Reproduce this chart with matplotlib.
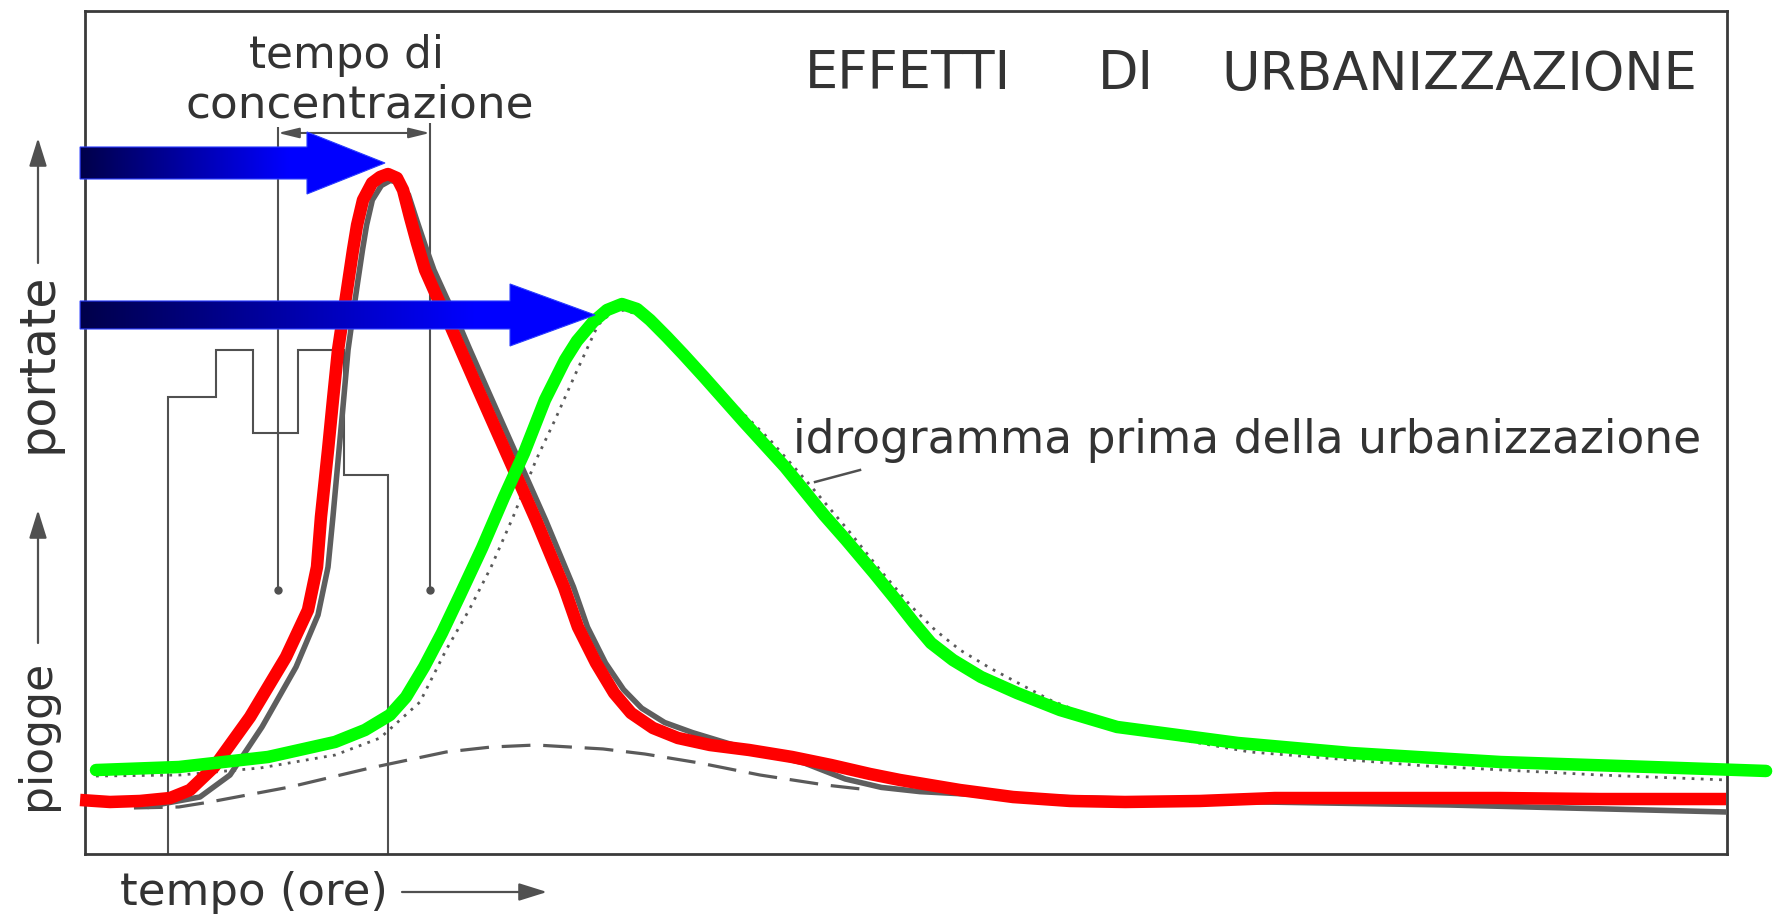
import numpy as np
import matplotlib
matplotlib.use("Agg")
import matplotlib.pyplot as plt
from matplotlib.patches import Polygon, FancyArrowPatch
from matplotlib.transforms import Affine2D
from matplotlib.colors import LinearSegmentedColormap

W, H, DPI = 1777, 918, 100

# ---------------- data (time 0..100 across frame, discharge 0..100) ----------------
# hydrograph after urbanization (red)
red_t = [-0.30, 1.52, 3.35, 5.18, 6.39, 7.86, 10.05, 12.24, 13.58, 14.13, 14.37, 14.80,
         15.10, 15.41, 15.71, 16.02, 16.32, 16.57, 16.93, 17.48, 17.97, 18.45, 19.00,
         19.37, 19.79, 20.22, 20.71, 21.44, 22.23, 22.84, 23.93, 25.58, 27.47, 29.17,
         30.02, 31.12, 32.22, 33.25, 34.59, 36.11, 38.06, 40.44, 43.06, 45.43, 47.81,
         49.63, 53.29, 56.52, 59.99, 63.34, 67.90, 72.47, 80.09, 86.18, 92.27, 99.94]
red_q = [6.41, 6.17, 6.29, 6.64, 7.59, 10.32, 16.25, 23.37, 28.94, 34.05, 39.98, 47.92,
         53.86, 59.79, 63.70, 67.74, 71.65, 74.61, 77.58, 79.60, 80.31, 80.66, 80.19,
         78.77, 75.56, 72.48, 69.28, 66.07, 62.75, 60.02, 55.16, 47.92, 39.62, 31.67,
         26.93, 22.66, 19.10, 16.73, 14.95, 13.76, 12.93, 12.34, 11.51, 10.56, 9.49,
         8.78, 7.59, 6.76, 6.29, 6.17, 6.29, 6.64, 6.64, 6.64, 6.52, 6.52]

# hydrograph before urbanization (green)
green_t = [0.67, 5.72, 11.15, 15.23, 17.05, 18.57, 19.55, 20.65, 21.74, 22.84, 24.18,
           25.52, 26.74, 28.01, 29.23, 29.96, 30.94, 31.79, 32.70, 33.62, 34.41, 35.44,
           36.42, 37.70, 40.13, 42.63, 45.01, 46.35, 48.05, 49.39, 50.49, 51.52, 52.86,
           54.57, 56.76, 59.38, 62.85, 70.22, 77.10, 86.24, 95.37, 102.38]
green_q = [9.96, 10.32, 11.51, 13.29, 14.71, 16.49, 18.62, 22.18, 26.22, 30.72, 36.30,
           42.35, 47.57, 53.86, 58.60, 60.85, 63.11, 64.53, 65.24, 64.65, 63.35, 61.33,
           59.31, 56.58, 51.25, 45.91, 40.21, 37.25, 33.33, 30.13, 27.40, 25.03, 23.01,
           21.00, 19.10, 17.08, 15.07, 13.17, 11.98, 10.91, 10.32, 9.85]

# original printed curves (grey): urbanized (solid), pre-urbanization (dotted), base flow (dashed)
orig_urb_t = [3.96, 7.00, 8.83, 10.78, 12.85, 14.19, 14.80, 15.10, 15.47, 15.75, 16.02,
              16.30, 16.60, 16.90, 17.15, 17.50, 18.05, 18.60, 19.20, 19.70, 20.20, 20.70,
              21.25, 22.00, 22.80, 23.40, 24.50, 26.15, 28.05, 29.75, 30.60, 31.70, 32.80,
              33.90, 35.30, 37.00, 39.20, 41.40, 43.80, 46.30, 48.50, 50.85, 55.72, 67.90,
              83.13, 100.0]
orig_urb_q = [5.69, 6.76, 9.37, 15.07, 22.18, 28.35, 34.04, 39.98, 47.92, 53.86, 59.79,
              63.70, 67.74, 71.65, 74.61, 77.58, 79.30, 79.90, 79.60, 78.20, 75.20, 72.30,
              69.28, 66.07, 62.75, 60.02, 55.16, 47.92, 39.62, 31.67, 26.93, 22.66, 19.50,
              17.30, 15.60, 14.40, 13.10, 11.90, 10.80, 8.90, 7.90, 7.40, 6.90, 6.29,
              5.81, 4.98]

orig_pre_t = [0.67, 5.79, 10.66, 15.23, 17.97, 20.40, 21.99, 23.39, 24.73, 26.07, 27.47,
              28.62, 29.84, 31.24, 32.10, 32.89, 34.23, 36.66, 38.19, 41.72, 44.15, 46.47,
              48.42, 50.24, 51.77, 53.29, 55.12, 58.77, 63.34, 70.95, 81.67, 92.27, 100.0]
orig_pre_q = [9.25, 9.37, 10.20, 11.74, 13.76, 18.03, 24.20, 28.94, 34.04, 39.98, 46.74,
              51.48, 56.82, 62.75, 64.29, 64.53, 63.58, 59.55, 55.87, 49.11, 43.77, 38.43,
              33.69, 29.54, 26.57, 24.20, 22.06, 18.27, 14.71, 12.10, 10.44, 9.37, 8.78]

base_t = [2.98, 5.72, 7.61, 12.48, 17.36, 21.99, 24.73, 27.47, 31.55, 34.10, 37.45,
          41.11, 45.07, 47.81]
base_q = [5.46, 5.58, 6.17, 7.95, 10.20, 12.10, 12.69, 12.93, 12.46, 11.86, 10.79,
          9.37, 8.19, 7.59]

# rainfall hyetograph
rain_edges = [5.05, 7.98, 10.23, 13.00, 15.77, 18.45]
rain_heights = [54.21, 59.79, 49.94, 59.79, 44.96]

# time of concentration markers
conc_t = [11.75, 21.01]
conc_top = [86.24, 86.71]
conc_bottom = 31.32
conc_bracket_q = 85.53

# peak indicator arrows (blue)
peak_arrow_tip_t = [18.27, 31.06]
peak_arrow_tip_q = [81.97, 63.94]
arrow_tail_t = -0.30

# leader line of the label
leader_t = [44.46, 47.20]
leader_q = [44.13, 45.55]

title_words = ["EFFETTI", "DI", "URBANIZZAZIONE"]
conc_label = ["tempo di", "concentrazione"]
curve_label = "idrogramma prima della urbanizzazione"
x_label = "tempo (ore)"
y_label_top = "portate"
y_label_bottom = "piogge"

# ---------------- figure ----------------
ink = "#333333"
grey = "#505050"

fig = plt.figure(figsize=(W / DPI, H / DPI), dpi=DPI)
fig.patch.set_facecolor("white")
L, R, T, B = 85, 1727, 11, 854
ax = fig.add_axes([L / W, (H - B) / H, (R - L) / W, (B - T) / H])
ax.set_xlim(0, 100)
ax.set_ylim(0, 100)
ax.set_xticks([])
ax.set_yticks([])
for s in ax.spines.values():
    s.set_color("#3a3a3a")
    s.set_linewidth(2.0)

# hyetograph and concentration time
ax.stairs(rain_heights, rain_edges, baseline=0, color=grey, lw=1.5, zorder=2)
ax.vlines(conc_t, conc_bottom, conc_top, color=grey, lw=1.5, zorder=2)
ax.plot(conc_t, [conc_bottom] * 2, "o", color=grey, ms=5, zorder=2)
ax.annotate("", xy=(conc_t[1], conc_bracket_q), xytext=(conc_t[0], conc_bracket_q),
            arrowprops=dict(arrowstyle="<|-|>,head_length=0.9,head_width=0.22",
                            color=grey, lw=1.5, shrinkA=0, shrinkB=0, mutation_scale=14),
            zorder=2)

# original grey curves
ax.plot(base_t, base_q, color="#5a5a5a", lw=2.3, dashes=(9, 4), zorder=3)
ax.plot(orig_pre_t, orig_pre_q, color="#5a5a5a", lw=2.0, dashes=(1, 2.3), zorder=3)
ax.plot(orig_urb_t, orig_urb_q, color="#5e5e5e", lw=4, zorder=3, solid_joinstyle="round")
ax.plot(leader_t, leader_q, color=grey, lw=1.8, zorder=3)

# coloured curves
ax.plot(red_t, red_q, color="#ff0000", lw=9, solid_joinstyle="round",
        solid_capstyle="butt", zorder=5, clip_on=False)
ax.plot(green_t, green_q, color="#00ff00", lw=9, solid_joinstyle="round",
        solid_capstyle="round", zorder=6, clip_on=False)

# blue gradient arrows
p0 = ax.transData.transform((0, 0))
p1 = ax.transData.transform((1, 1))
sx, sy = p1 - p0
cmap = LinearSegmentedColormap.from_list("navyblue", ["#00004a", "#0000ff"])
shaft_half_px = [16, 14]
head_len_px = [78, 85]
head_half_px = 31
for tip_t, tip_q, sh, hl in zip(peak_arrow_tip_t, peak_arrow_tip_q, shaft_half_px, head_len_px):
    base = tip_t - hl / sx
    shq = sh / sy
    hhq = head_half_px / sy
    verts = [(arrow_tail_t, tip_q - shq), (base, tip_q - shq), (base, tip_q - hhq),
             (tip_t, tip_q), (base, tip_q + hhq), (base, tip_q + shq),
             (arrow_tail_t, tip_q + shq)]
    poly = Polygon(verts, closed=True, facecolor="none", edgecolor="#2a3cff",
                   lw=0.8, zorder=8, clip_on=False)
    ax.add_patch(poly)
    xs = np.linspace(arrow_tail_t, tip_t, 500)
    g = np.clip((xs - arrow_tail_t) / (0.92 * (base - arrow_tail_t)), 0, 1)[None, :]
    im = ax.imshow(g, extent=[arrow_tail_t, tip_t, tip_q - hhq, tip_q + hhq], cmap=cmap,
                   vmin=0, vmax=1, aspect="auto", interpolation="bilinear",
                   origin="lower", zorder=7)
    im.set_clip_box(fig.bbox)
    im.set_clip_path(poly)
ax.set_xlim(0, 100)
ax.set_ylim(0, 100)

# ---------------- texts (pixel layout from top-left) ----------------
pix = Affine2D().scale(1, -1).translate(0, H)
fig.canvas.draw()
renderer = fig.canvas.get_renderer()


def fit_text(s, x0, x1, y, **kw):
    t = fig.text(0, 0, s, fontsize=20, transform=pix, color=ink,
                 ha="left", va="baseline", family="DejaVu Sans", **kw)
    w = t.get_window_extent(renderer).width
    t.set_fontsize(20 * (x1 - x0) / w)
    t.set_position((x0, y))
    return t


def fit_vtext(s, xc, y_bottom, y_top, **kw):
    t = fig.text(0, 0, s, fontsize=20, transform=pix, color=ink,
                 ha="center", va="center", family="DejaVu Sans", **kw)
    w = t.get_window_extent(renderer).width
    t.set_fontsize(20 * (y_bottom - y_top) / w)
    t.set_rotation(90)
    t.set_position((xc, (y_bottom + y_top) / 2))
    return t


fit_text(conc_label[0], 249, 444, 68)
fit_text(conc_label[1], 186, 534, 117)
# title: one size for all words, fitted on the longest word
tw = fit_text(title_words[2], 1221, 1697, 90)
tsize = tw.get_fontsize()
for word, x0 in zip(title_words[:2], [805, 1098]):
    fig.text(x0, 89, word, fontsize=tsize, transform=pix, color=ink,
             ha="left", va="baseline", family="DejaVu Sans")
fit_text(curve_label, 793, 1703, 453)
fit_text(x_label, 120, 387, 905)
fit_vtext(y_label_top, 37, 453, 273)
fit_vtext(y_label_bottom, 37, 810, 660)


def axis_arrow(a, b):
    fig.add_artist(FancyArrowPatch(a, b, transform=pix,
                                   arrowstyle="-|>,head_length=1.15,head_width=0.36",
                                   mutation_scale=15, color=grey, lw=1.6,
                                   shrinkA=0, shrinkB=0))


axis_arrow((38, 263), (38, 138))
axis_arrow((38, 643), (38, 510))
axis_arrow((402, 892), (547, 892))

fig.savefig("out.png", dpi=DPI, facecolor="white")
